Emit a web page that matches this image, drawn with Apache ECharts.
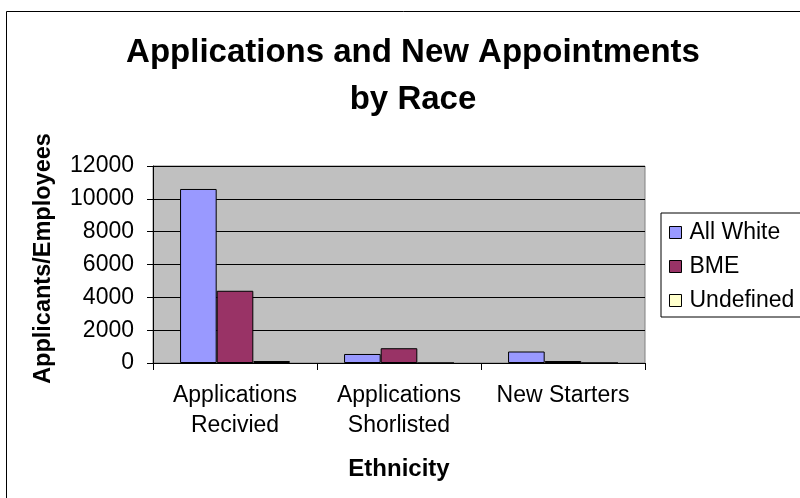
<!DOCTYPE html>
<html>
<head>
<meta charset="utf-8">
<script src="https://cdn.jsdelivr.net/npm/echarts@6/dist/echarts.min.js"></script>
<style>
  html, body { margin: 0; padding: 0; background: #fff; }
  #chart { width: 800px; height: 498px; }
</style>
</head>
<body>
<div id="chart"></div>
<script>
// Application stages along the x axis
const categories = ['Applications\nRecivied', 'Applications\nShorlisted', 'New Starters'];

// Counts per ethnic group at each stage
const allWhite = [10600, 550, 700];
const bme = [4400, 900, 120];
const undefinedGroup = [120, 0, 0];

// Value axis ticks
const yMin = 0;
const yMax = 12000;
const yStep = 2000;

const FONT = "'Liberation Sans', Arial, sans-serif";

const chart = echarts.init(document.getElementById('chart'));

const barStyle = (color) => ({ color: color, borderColor: '#000', borderWidth: 1 });

chart.setOption({
  animation: false,
  backgroundColor: '#fff',
  textStyle: { fontFamily: FONT },
  title: {
    text: 'Applications and New Appointments\nby Race',
    left: 408,
    top: 24,
    textAlign: 'center',
    textStyle: { fontFamily: FONT, fontSize: 33, fontWeight: 'bold', color: '#000', lineHeight: 47 }
  },
  graphic: [{
    type: 'rect',
    shape: { x: 6.5, y: 11.5, width: 800, height: 500 },
    style: { fill: 'none', stroke: '#000', lineWidth: 1 },
    silent: true
  }],
  legend: {
    orient: 'vertical',
    left: 661,
    top: 213,
    padding: [8, 20, 5, 8],
    itemGap: 11,
    itemWidth: 12,
    itemHeight: 12,
    icon: 'rect',
    borderColor: '#000',
    borderWidth: 1,
    backgroundColor: '#fff',
    itemStyle: { borderColor: '#000', borderWidth: 1 },
    textStyle: { fontFamily: FONT, fontSize: 23, color: '#000', lineHeight: 22, padding: [0, 0, 0, 3] },
    data: ['All White', 'BME', 'Undefined']
  },
  grid: {
    left: 153,
    right: 155,
    top: 166,
    bottom: 135,
    show: true,
    backgroundColor: '#C0C0C0',
    borderColor: '#808080',
    borderWidth: 1
  },
  xAxis: {
    type: 'category',
    data: categories,
    name: 'Ethnicity',
    nameLocation: 'middle',
    nameGap: 94,
    nameTextStyle: { fontFamily: FONT, fontSize: 24, fontWeight: 'bold', color: '#000' },
    axisLine: { lineStyle: { color: '#000', width: 1 } },
    axisTick: { show: true, length: 7, lineStyle: { color: '#000' } },
    axisLabel: { fontFamily: FONT, fontSize: 23, color: '#000', lineHeight: 30, margin: 18, interval: 0 }
  },
  yAxis: {
    type: 'value',
    min: yMin,
    max: yMax,
    interval: yStep,
    name: 'Applicants/Employees',
    nameLocation: 'middle',
    nameRotate: 90,
    nameGap: 97,
    nameTextStyle: { fontFamily: FONT, fontSize: 23.5, fontWeight: 'bold', color: '#000', padding: [0, 0, 0, 12] },
    axisLine: { show: true, lineStyle: { color: '#000', width: 1 } },
    axisTick: { show: true, length: 6, lineStyle: { color: '#000' } },
    axisLabel: { fontFamily: FONT, fontSize: 23, color: '#000', margin: 19, formatter: (v) => String(v) },
    splitLine: { show: true, lineStyle: { color: '#000', width: 1 } }
  },
  series: [
    { name: 'All White', type: 'bar', data: allWhite, barGap: '0%', barCategoryGap: '33%', itemStyle: barStyle('#9999FF') },
    { name: 'BME', type: 'bar', data: bme, itemStyle: barStyle('#993366') },
    { name: 'Undefined', type: 'bar', data: undefinedGroup, itemStyle: barStyle('#FFFFCC') }
  ]
});
</script>
</body>
</html>
